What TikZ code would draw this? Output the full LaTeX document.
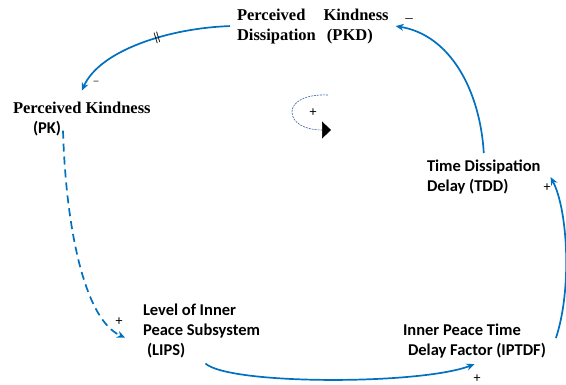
\documentclass[tikz,border=0pt]{standalone}
\usepackage{fontspec}
\setmainfont{Liberation Serif}
\newfontfamily\calfont{Carlito}
\usetikzlibrary{arrows.meta}
\definecolor{lnblue}{RGB}{0,112,192}
\definecolor{loopblue}{RGB}{60,100,165}
\begin{document}
\begin{tikzpicture}[x=1pt,y=-1pt,
  serifbold/.style={font=\fontsize{16.5}{20}\selectfont\bfseries},
  sansbold/.style={font=\fontsize{16.5}{20}\selectfont\calfont\bfseries},
  lbl/.style={inner sep=0pt, outer sep=0pt, anchor=north west, align=left},
  link/.style={draw=lnblue, line width=1.7pt, -{Stealth[length=8pt,width=7pt]}},
  sign/.style={inner sep=0pt, font=\fontsize{14}{14}\selectfont\calfont}]
\useasboundingbox (0,0) rectangle (566,385);

% variables
\node[lbl, serifbold] (pkd) at (237,8.6) {Perceived\hspace{14pt} Kindness\\Dissipation\hspace{7pt} (PKD)};
\node[lbl, serifbold] (pk) at (13,101.6) {Perceived Kindness\\\hspace{20pt}{\calfont (PK)}};
\node[lbl, sansbold] (lips) at (143,303.5) {Level of Inner\\Peace Subsystem\\\hspace{4pt}(LIPS)};
\node[lbl, sansbold] (iptdf) at (403,324) {Inner Peace Time\\\hspace{5pt}Delay Factor (IPTDF)};
\node[lbl, sansbold] (tdd) at (427,160) {Time Dissipation\\Delay (TDD)};

% connectors
\draw[link] ([xshift=-7pt]pkd.west) .. controls (170,28) and (100,50) .. ([yshift=11pt]pk.north)
  node[pos=0.4, sloped, inner sep=0pt, font=\fontsize{12}{12}\selectfont\bfseries, text=black] (delay) {||};
\draw[link, dash pattern=on 8pt off 5pt] ([xshift=50pt,yshift=5pt]pk.south west) .. controls (66,230) and (85,320) .. ([xshift=-18pt,yshift=-7pt]lips.west);
\draw[link] ([xshift=4pt,yshift=-6pt]lips.south) .. controls (230,385) and (420,385) .. ([yshift=-6pt]iptdf.south);
\draw[link] ([xshift=10pt,yshift=3pt]iptdf.east) .. controls (572,290) and (568,210) .. ([xshift=10pt]tdd.east);
\draw[link] ([yshift=7pt]tdd.north) .. controls (480,90) and (450,35) .. ([xshift=7pt]pkd.east);

% polarity signs
\node[sign, font=\fontsize{15}{15}\selectfont] (s1) at (409,21) {–};
\node[sign, text=black!70] (s2) at (96,83) {–};
\node[sign] (s3) at (119,322) {+};
\node[sign] (s4) at (477,379) {+};
\node[sign] (s5) at (547,188) {+};

% loop symbol
\node[sign] (s6) at (313,113) {+};
\draw[draw=loopblue, line width=0.6pt, dash pattern=on 2pt off 1pt, -{Triangle[length=9pt,width=17pt,fill=black,color=black]}]
  (328,95) .. controls (305,94) and (292,102) .. (292,112) .. controls (292,123) and (305,130) .. (331,130);
\end{tikzpicture}
\end{document}
